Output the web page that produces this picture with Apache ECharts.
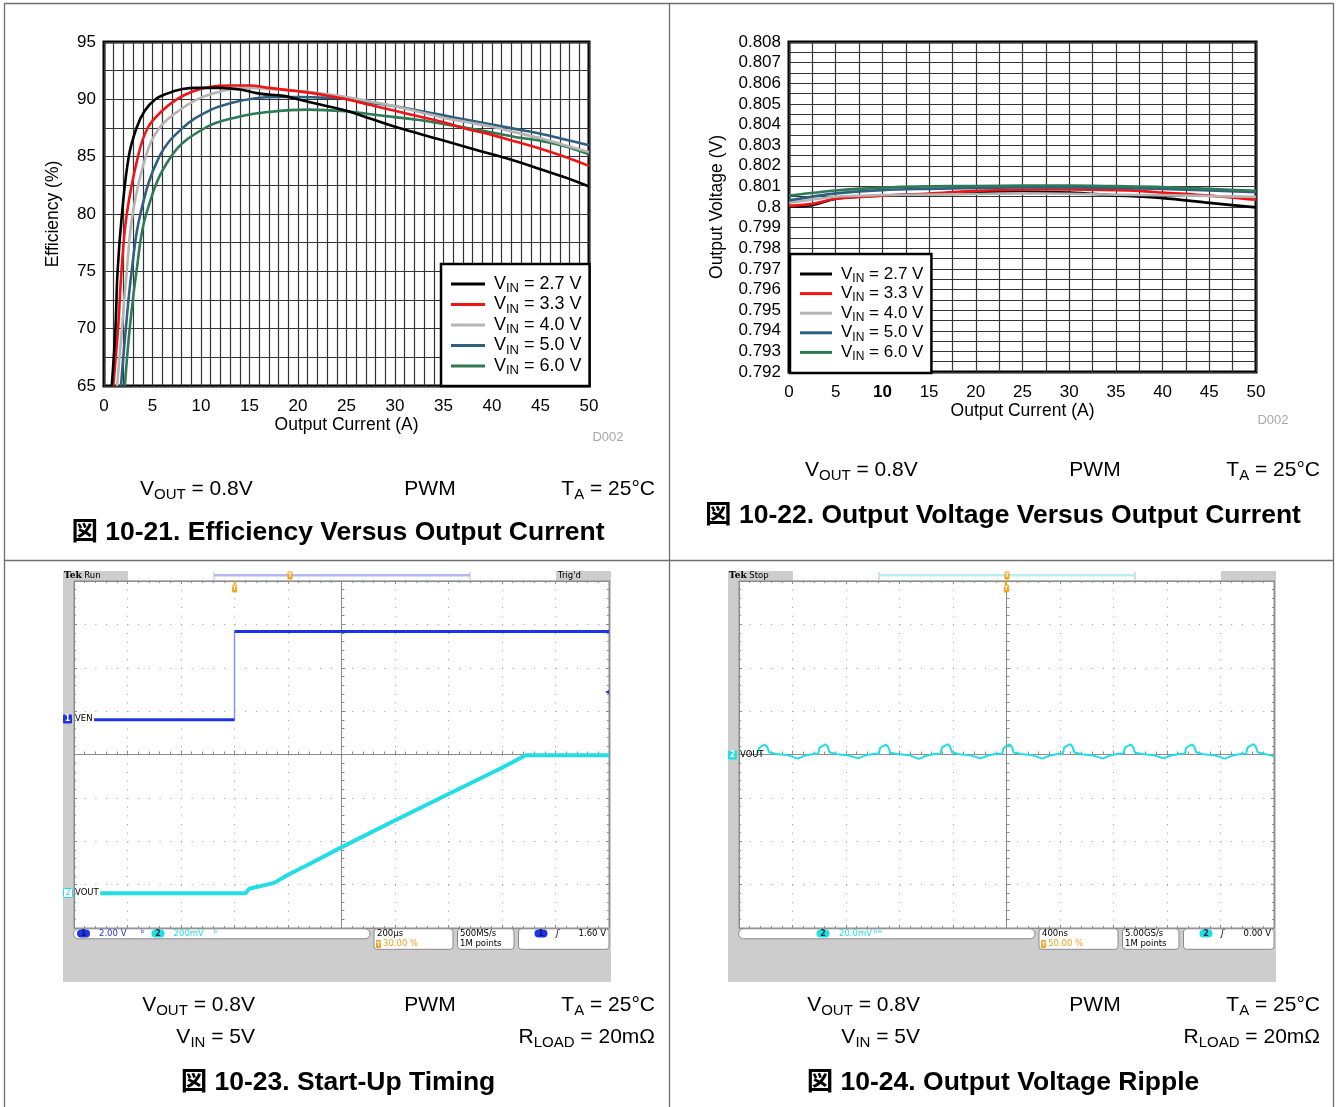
<!DOCTYPE html>
<html><head><meta charset="utf-8">
<script src="https://cdn.jsdelivr.net/npm/echarts@6/dist/echarts.min.js"></script>
<style>html,body{margin:0;padding:0;background:#fff}#c{width:1336px;height:1107px}</style>
</head><body><div id="c"></div>
<script>
// ================= DATA =================
const vinNames = ['VIN = 2.7 V','VIN = 3.3 V','VIN = 4.0 V','VIN = 5.0 V','VIN = 6.0 V'];
const vinColors = ['#000000','#f01414','#b4b4b4','#2f607f','#2e7a55'];
// Efficiency (%) vs output current (A)
const eff27 = [[0.8,65],[1.18,70],[1.4,75],[1.85,80],[2.55,85],[3.35,87.5],[4.2,89],[5.3,90],[6.5,90.5],[8.1,90.9],[9.6,91.0],[12,91.0],[14,90.85],[16,90.5],[18.5,90.3],[20,90.0],[22.5,89.5],[25,89.0],[27.5,88.3],[30,87.6],[32.5,87.0],[35,86.4],[37.5,85.8],[40,85.2],[42.5,84.6],[45,83.9],[47.5,83.2],[50,82.4]];
const eff33 = [[0.95,65],[1.45,70],[1.8,75],[2.35,80],[3.5,85],[4.5,87.5],[6,89],[7.5,90],[9.2,90.7],[11,91.1],[13,91.2],[15,91.2],[17,91.0],[20,90.7],[22.5,90.4],[25,90.0],[27.5,89.5],[30,89.0],[32.5,88.5],[35,88.0],[37.5,87.4],[40,86.9],[42.5,86.3],[45,85.7],[47.5,85.0],[50,84.2]];
const eff40 = [[1.35,65],[1.85,70],[2.35,75],[2.95,80],[4.3,85],[5.7,87.5],[7.7,89],[9.6,90],[11.2,90.5],[13.2,90.9],[15.2,91.0],[17,90.9],[20,90.75],[22.5,90.5],[25,90.2],[27.5,89.8],[30,89.4],[32.5,88.9],[35,88.4],[37.5,88.0],[40,87.6],[42.5,87.1],[45,86.6],[47.5,86.0],[50,85.4]];
const eff50 = [[1.75,65],[2.25,70],[2.85,75],[3.75,80],[5.7,85],[8.1,87.5],[10.8,89],[13.2,89.7],[15.6,90.1],[18,90.2],[20,90.2],[22.5,90.15],[25,90.05],[27.5,89.7],[30,89.4],[32.5,89.0],[35,88.6],[37.5,88.2],[40,87.8],[42.5,87.4],[45,87.0],[47.5,86.5],[50,86.0]];
const eff60 = [[2.15,65],[2.65,70],[3.35,75],[4.35,80],[6.9,85],[10.4,87.5],[14,88.5],[17,88.9],[21,89.1],[25,88.95],[27.5,88.7],[30,88.45],[32.5,88.2],[35,87.85],[37.5,87.5],[40,87.1],[42.5,86.7],[45,86.4],[47.5,85.9],[50,85.2]];
// Output voltage (V) vs output current (A)
const vo27 = [[0,0.80003],[2.5,0.80009],[5,0.8004],[7.5,0.8005],[10,0.80055],[15,0.80062],[20,0.8007],[25,0.80072],[30,0.8007],[35,0.80056],[40,0.80043],[45,0.8002],[50,0.79998]];
const vo33 = [[0,0.80005],[2.5,0.80015],[5,0.8004],[10,0.80055],[15,0.80065],[20,0.80078],[25,0.80084],[30,0.80085],[35,0.80082],[37.5,0.80078],[40,0.8007],[45,0.80055],[50,0.80035]];
const vo40 = [[0,0.8002],[5,0.8005],[10,0.80058],[15,0.8006],[20,0.80063],[25,0.80066],[30,0.80064],[35,0.8006],[40,0.80057],[45,0.80053],[50,0.8005]];
const vo50 = [[0,0.80032],[5,0.80066],[10,0.80082],[15,0.80088],[20,0.80092],[25,0.80095],[30,0.80095],[35,0.80092],[40,0.80088],[45,0.8008],[50,0.80072]];
const vo60 = [[0,0.80055],[5,0.8008],[10,0.80094],[15,0.801],[20,0.80102],[25,0.80104],[30,0.80104],[35,0.80101],[40,0.80097],[45,0.80088],[50,0.80078]];
// Start-up timing: time (us) vs volts
const venLow = [[-525,0],[0,0]];
const venEdge = [[0,0],[0,4.07]];
const venHigh = [[0,4.07],[1400,4.07]];
const voutStart = [[-502,0],[41,0],[55,0.021],[148,0.048],[202,0.087],[282,0.136],[401,0.213],[601,0.337],[802,0.459],[1002,0.580],[1088,0.637],[1400,0.637]];
// Output ripple: time (ns) vs mV
const ripple = [
 [-1861,0.5],[-1851,3.0],[-1831,3.8],[-1806,4.5],[-1790,3.6],[-1775,1.0],[-1721,0.2],[-1631,-0.4],[-1561,-1.9],[-1511,-0.6],[-1446,0.2],
 [-1408,0.3],[-1398,3.1],[-1378,3.9],[-1353,4.7],[-1337,3.7],[-1322,1.0],[-1268,0.1],[-1178,-0.5],[-1108,-1.8],[-1058,-0.5],[-993,0.3],
 [-955,0.3],[-945,3.0],[-925,3.8],[-900,4.5],[-884,3.5],[-869,0.8],[-815,0.2],[-725,-0.4],[-655,-2.0],[-605,-0.7],[-540,0.2],
 [-493,0.4],[-483,3.2],[-463,4.0],[-438,4.8],[-422,3.7],[-407,1.0],[-353,0.1],[-263,-0.5],[-193,-1.8],[-143,-0.6],[-78,0.3],
 [-32,0.3],[-22,3.0],[-2,3.9],[23,4.6],[39,3.6],[54,0.9],[108,0.2],[198,-0.4],[268,-1.9],[318,-0.6],[383,0.2],
 [421,0.4],[431,3.1],[451,4.0],[476,4.8],[492,3.7],[507,1.0],[561,0.1],[651,-0.5],[721,-1.9],[771,-0.5],[836,0.3],
 [875,0.3],[885,3.1],[905,3.9],[930,4.6],[946,3.5],[961,0.9],[1015,0.2],[1105,-0.4],[1175,-1.8],[1225,-0.6],[1290,0.2],
 [1333,0.3],[1343,3.0],[1363,3.9],[1388,4.6],[1404,3.6],[1419,1.0],[1473,0.1],[1563,-0.5],[1633,-1.9],[1683,-0.6],[1748,0.2],
 [1792,0.4],[1802,3.2],[1822,4.0],[1847,4.8],[1863,3.7],[1878,1.0],[1932,0.2],[1975,-0.4],[2000,-0.8]
];
const effSeries = [eff27, eff33, eff40, eff50, eff60];
const voSeries = [vo27, vo33, vo40, vo50, vo60];

// ================= STYLE / LAYOUT =================
const F = 'Liberation Sans, Arial, Helvetica, sans-serif';
const FT = 'Liberation Sans, Arial, Noto Sans CJK JP, sans-serif';
const FS = 'DejaVu Sans, sans-serif';
const gridLine = {color:'#333333', width:1.2};
const scopeGrey = '#8c8c8c';
const cBlue = '#1f33e6', cCyan = '#22dde3', cOrange = '#f5a21e';

function legendFmt(name){ return '{n|V}{s|IN}{n|' + name.slice(3) + '}'; }

function effLegend(left, top, fs, sub, lh, pad, gap, iw){
  return {left, top, orient:'vertical', data: vinNames, icon:'rect', itemWidth: iw, itemHeight: 3,
    itemGap: gap, padding: pad, backgroundColor:'#fff', borderColor:'#000', borderWidth: 2.5,
    formatter: legendFmt, selectedMode:false,
    textStyle:{padding:[0,0,0,4], rich:{
      n:{fontSize:fs, fontFamily:F, color:'#000', lineHeight:lh, verticalAlign:'middle'},
      s:{fontSize:sub, fontFamily:F, color:'#000', lineHeight:lh, verticalAlign:'middle', padding:[9,0,0,0]}}}};
}

// scope axis helpers
function divCenterX(grid, onIdx){ return {gridIndex:grid, type:'value', min:-5, max:5, interval:1, position:'bottom',
  axisLine:{show:true, onZero:true, onZeroAxisIndex:onIdx, lineStyle:{color:scopeGrey, width:1}},
  axisTick:{show:true, inside:true, length:4, lineStyle:{color:scopeGrey}},
  minorTick:{show:true, splitNumber:5, length:3, lineStyle:{color:scopeGrey}},
  axisLabel:{show:false}, splitLine:{show:true, lineStyle:{color:'#9a9a9a', width:1, type:[1,7.68]}}}; }
function divEdgeX(grid, pos){ return {gridIndex:grid, type:'value', min:-5, max:5, interval:1, position:pos,
  axisLine:{show:true, onZero:false, lineStyle:{color:scopeGrey, width:1}},
  axisTick:{show:true, inside:true, length:3, lineStyle:{color:scopeGrey}},
  minorTick:{show:true, splitNumber:5, length:2, lineStyle:{color:scopeGrey}},
  axisLabel:{show:false}, splitLine:{show:false}}; }
function divCenterY(grid, onIdx){ return {gridIndex:grid, type:'value', min:-4, max:4, interval:1, position:'left',
  axisLine:{show:true, onZero:true, onZeroAxisIndex:onIdx, lineStyle:{color:scopeGrey, width:1}},
  axisTick:{show:true, inside:true, length:4, lineStyle:{color:scopeGrey}},
  minorTick:{show:true, splitNumber:5, length:3, lineStyle:{color:scopeGrey}},
  axisLabel:{show:false}, splitLine:{show:true, lineStyle:{color:'#9a9a9a', width:1, type:[1,9.7]}}}; }
function divEdgeY(grid, pos){ return {gridIndex:grid, type:'value', min:-4, max:4, interval:1, position:pos,
  axisLine:{show:true, onZero:false, lineStyle:{color:scopeGrey, width:1}},
  axisTick:{show:true, inside:true, length:3, lineStyle:{color:scopeGrey}},
  minorTick:{show:true, splitNumber:5, length:2, lineStyle:{color:scopeGrey}},
  axisLabel:{show:false}, splitLine:{show:false}}; }
function hidden(grid, min, max){ return {gridIndex:grid, type:'value', min, max, show:false, axisLine:{onZero:false}, splitLine:{show:false}}; }

// ================= GRAPHIC DECORATION =================
const G = [];
function gline(x1,y1,x2,y2,color,w,z){ G.push({type:'line', silent:true, z:z==null?50:z, shape:{x1,y1,x2,y2}, style:{stroke:color, lineWidth:w}}); }
function grect(x,y,w,h,fill,stroke,r,z){ G.push({type:'rect', silent:true, z:z==null?50:z, shape:{x,y,width:w,height:h,r:r||0}, style:{fill:fill, stroke:stroke||null, lineWidth:1}}); }
function gtext(x,y,t,st,z){ G.push({type:'text', silent:true, z:z==null?60:z, x, y, style:Object.assign({text:t, fill:'#000', align:'left', verticalAlign:'middle', fontFamily:F, fontSize:20}, st)}); }

// page frame
const frameC = '#6e6e6e';
gline(4.5,3,4.5,1107,frameC,1.3); gline(1333.5,3,1333.5,1107,frameC,1.3);
gline(4.5,3.5,1333.5,3.5,frameC,1.3); gline(669.5,3,669.5,1107,frameC,1.3);
gline(4.5,560.5,1333.5,560.5,frameC,1.3);

// captions
const capRich = {n:{fontSize:21, fontFamily:F, color:'#000', lineHeight:26, verticalAlign:'middle'},
                 s:{fontSize:15, fontFamily:F, color:'#000', lineHeight:26, verticalAlign:'middle', padding:[11,0,0,0]}};
function cap(x,y,t,align){ gtext(x,y,t,{align, rich:capRich}); }
function title(x,y,t){ gtext(x,y,t,{align:'center', fontFamily:FT, fontWeight:'bold', fontSize:26.5}); }
// panel 1
cap(140,489,'{n|V}{s|OUT}{n| = 0.8V}','left'); cap(430,489,'{n|PWM}','center'); cap(655,489,'{n|T}{s|A}{n| = 25°C}','right');
title(338,533,'図 10-21. Efficiency Versus Output Current');
// panel 2
cap(805,470,'{n|V}{s|OUT}{n| = 0.8V}','left'); cap(1095,470,'{n|PWM}','center'); cap(1320,470,'{n|T}{s|A}{n| = 25°C}','right');
title(1003,516,'図 10-22. Output Voltage Versus Output Current');
// panel 3
cap(255,1005,'{n|V}{s|OUT}{n| = 0.8V}','right'); cap(430,1005,'{n|PWM}','center'); cap(655,1005,'{n|T}{s|A}{n| = 25°C}','right');
cap(255,1037,'{n|V}{s|IN}{n| = 5V}','right'); cap(655,1037,'{n|R}{s|LOAD}{n| = 20mΩ}','right');
title(338,1083,'図 10-23. Start-Up Timing');
// panel 4
cap(920,1005,'{n|V}{s|OUT}{n| = 0.8V}','right'); cap(1095,1005,'{n|PWM}','center'); cap(1320,1005,'{n|T}{s|A}{n| = 25°C}','right');
cap(920,1037,'{n|V}{s|IN}{n| = 5V}','right'); cap(1320,1037,'{n|R}{s|LOAD}{n| = 20mΩ}','right');
title(1003,1083,'図 10-24. Output Voltage Ripple');
// D002 marks
gtext(608,437,'D002',{align:'center', fontSize:13, fill:'#a8a8a8'});
gtext(1273,420,'D002',{align:'center', fontSize:13, fill:'#a8a8a8'});

// scope decoration
function st(x,y,t,fill,extra){ gtext(x,y,t,Object.assign({fontFamily:FS, fontSize:8.5, fill:fill||'#000'}, extra||{}), 70); }
function oval(cx,cy,fill,num,numColor){ grect(cx-6.5,cy-4,13,8,fill,null,4,65); st(cx,cy,num,numColor,{align:'center', fontWeight:'bold', fontSize:8}); }
function tBadge(x,y){ grect(x-2.5,y-4,5,8,cOrange,null,1,66); st(x,y,'T','#fff',{align:'center', fontSize:6, fontWeight:'bold'}); }
function scope(ox, mode){
  grect(63+ox,571,548,411,'#cdcdcd',null,0,-10);
  grect(128+ox,571,428,9.5,'#ffffff',null,0,-9);
  gtext(64+ox,575.5,'{b|Tek} ' + (mode==='run'?'Run':'Stop'),{fontFamily:FS, fontSize:8.5, rich:{b:{fontFamily:'DejaVu Serif, serif', fontWeight:'bold', fontSize:9}}},70);
  const barC = mode==='run' ? '#b3b6f2' : '#b5f1f3';
  grect(214+ox,574,256,2.5,barC,null,0,62);
  gline(214+ox,572,214+ox,580,'#bbbbbb',1,61); gline(470+ox,572,470+ox,580,'#bbbbbb',1,61);
  const tTop = mode==='run' ? 290 : 1007-ox;
  tBadge(tTop+ox,575.5);
  const tPos = mode==='run' ? 234.6 : 1006.4-ox;
  gtext(tPos+ox,583,'▾',{align:'center', fontSize:7, fill:cOrange},66);
  tBadge(tPos+ox,588.5);
  if (mode==='run') st(558+ox,575.5,"Trig'd");
  grect(73.6+ox,928.8,296.4,10,'#fff','#8a8a8a',5,63);
  grect(374+ox,928.8,79,20.5,'#fff','#8a8a8a',3,63);
  grect(457.5+ox,928.8,56.5,20.5,'#fff','#8a8a8a',3,63);
  grect(518.5+ox,928.8,90.5,20.5,'#fff','#8a8a8a',3,63);
}
scope(0,'run'); scope(665,'stop');
// panel 3 status
oval(83.5,933.5,cBlue,'1','#0a1a70'); st(99,933.5,'2.00 V',cBlue); st(141,933.5,'ᵇ',cBlue);
oval(158,933.5,cCyan,'2','#0a3a40'); st(173.6,933.5,'200mV',cCyan); st(214,933.5,'ᵇ',cCyan);
st(377,933.5,'200µs'); tBadge(378.5,944); st(383,944,'30.00 %',cOrange);
st(460,933.5,'500MS/s'); st(460,944,'1M points');
oval(541,933.5,cBlue,'1','#0a1a70'); st(556,933.5,'ʃ','#000',{fontStyle:'italic'}); st(606,933.5,'1.60 V','#000',{align:'right'});
grect(63,714.5,9,9,cBlue,null,1,65); st(67.5,719,'1','#fff',{align:'center', fontWeight:'bold', fontSize:8}); st(75,719,'VEN');
grect(63.5,888.5,9,9,'#fff',cCyan,1,65); st(68,893,'2',cCyan,{align:'center', fontSize:8}); st(75,893,'VOUT');
st(607,691.5,'◂',cBlue,{align:'center', fontSize:8});
// panel 4 status
oval(823,933.5,cCyan,'2','#0a3a40'); st(839,933.5,'20.0mV',cCyan); st(874,933.5,'ᵇʷ',cCyan);
st(1042,933.5,'400ns'); tBadge(1043.5,944); st(1048,944,'50.00 %',cOrange);
st(1125,933.5,'5.00GS/s'); st(1125,944,'1M points');
oval(1206,933.5,cCyan,'2','#0a3a40'); st(1221,933.5,'ʃ','#000',{fontStyle:'italic'}); st(1271,933.5,'0.00 V','#000',{align:'right'});
grect(728,750.5,9,9,cCyan,null,1,65); st(732.5,755,'2','#fff',{align:'center', fontWeight:'bold', fontSize:8}); st(740,755,'VOUT');

// ================= OPTION =================
const axisLbl = {fontSize:17, fontFamily:F, color:'#000'};
const nameStyle = {fontSize:17.5, fontFamily:F, color:'#000'};
const series = [];
effSeries.forEach((d,i)=>series.push({type:'line', name:vinNames[i], xAxisIndex:0, yAxisIndex:0, data:d, showSymbol:false, symbol:'none', smooth:0.4, clip:true, z:3+(4-i), lineStyle:{width:2.6, color:vinColors[i]}, itemStyle:{color:vinColors[i]}}));
voSeries.forEach((d,i)=>series.push({type:'line', name:vinNames[i], xAxisIndex:1, yAxisIndex:1, data:d, showSymbol:false, symbol:'none', smooth:0.3, clip:true, z:3+i, lineStyle:{width:2.6, color:vinColors[i]}, itemStyle:{color:vinColors[i]}}));
series.push({type:'line', name:'VEN', xAxisIndex:5, yAxisIndex:5, data:venLow, symbol:'none', lineStyle:{width:3, color:cBlue}, z:5});
series.push({type:'line', name:'VEN edge', xAxisIndex:5, yAxisIndex:5, data:venEdge, symbol:'none', lineStyle:{width:1.5, color:'#8a90f2'}, z:4});
series.push({type:'line', name:'VEN high', xAxisIndex:5, yAxisIndex:5, data:venHigh, symbol:'none', lineStyle:{width:3, color:cBlue}, z:5});
series.push({type:'line', name:'VOUT', xAxisIndex:5, yAxisIndex:6, data:voutStart, symbol:'none', lineStyle:{width:4, color:cCyan}, z:5});
series.push({type:'line', name:'VOUT ripple', xAxisIndex:9, yAxisIndex:10, data:ripple, symbol:'none', lineStyle:{width:2, color:cCyan}, z:5});

const option = {
  animation:false,
  backgroundColor:'#ffffff',
  grid:[
    {left:104, top:42, width:485, height:344, show:true, borderColor:'#000', borderWidth:3, backgroundColor:'transparent'},
    {left:789, top:42, width:467, height:330, show:true, borderColor:'#000', borderWidth:3, backgroundColor:'transparent'},
    {left:74, top:581, width:535, height:347, show:true, borderColor:scopeGrey, borderWidth:1, backgroundColor:'#fff'},
    {left:739, top:581, width:535, height:347, show:true, borderColor:scopeGrey, borderWidth:1, backgroundColor:'#fff'}
  ],
  xAxis:[
    {gridIndex:0, type:'value', min:0, max:50, interval:5, axisLine:{show:false}, axisTick:{show:false},
     axisLabel:Object.assign({margin:12}, axisLbl), splitLine:{show:true, lineStyle:gridLine},
     minorTick:{show:false, splitNumber:5}, minorSplitLine:{show:true, lineStyle:gridLine},
     name:'Output Current (A)', nameLocation:'middle', nameGap:30, nameTextStyle:nameStyle},
    {gridIndex:1, type:'value', min:0, max:50, interval:5, axisLine:{show:false}, axisTick:{show:false},
     axisLabel:Object.assign({margin:12, formatter:v=> v===10 ? '{b|10}' : String(v), rich:{b:{fontSize:17, fontFamily:F, fontWeight:'bold', color:'#000'}}}, axisLbl),
     splitLine:{show:true, lineStyle:gridLine},
     minorTick:{show:false, splitNumber:2}, minorSplitLine:{show:true, lineStyle:gridLine},
     name:'Output Current (A)', nameLocation:'middle', nameGap:28, nameTextStyle:nameStyle},
    divCenterX(2,2), divEdgeX(2,'top'), divEdgeX(2,'bottom'), hidden(2,-600,1400),
    divCenterX(3,7), divEdgeX(3,'top'), divEdgeX(3,'bottom'), hidden(3,-2000,2000)
  ],
  yAxis:[
    {gridIndex:0, type:'value', min:65, max:95, interval:5, axisLine:{show:false}, axisTick:{show:false},
     axisLabel:Object.assign({margin:8}, axisLbl), splitLine:{show:true, lineStyle:gridLine},
     minorTick:{show:false, splitNumber:2}, minorSplitLine:{show:true, lineStyle:gridLine},
     name:'Efficiency (%)', nameLocation:'middle', nameGap:42, nameTextStyle:nameStyle},
    {gridIndex:1, type:'value', min:0.792, max:0.808, interval:0.001, axisLine:{show:false}, axisTick:{show:false},
     axisLabel:Object.assign({margin:8, formatter:v=>String(+(+v).toFixed(3))}, axisLbl), splitLine:{show:true, lineStyle:gridLine},
     minorTick:{show:false, splitNumber:2}, minorSplitLine:{show:true, lineStyle:gridLine},
     name:'Output Voltage (V)', nameLocation:'middle', nameGap:63, nameTextStyle:nameStyle},
    divCenterY(2,2), divEdgeY(2,'left'), divEdgeY(2,'right'), hidden(2,-9.6,6.4), hidden(2,-0.16,1.44),
    divCenterY(3,6), divEdgeY(3,'left'), divEdgeY(3,'right'), hidden(3,-80,80)
  ],
  legend:[
    effLegend(441, 264, 18, 13, 20, [9,8,9,10], -1.5, 34),
    effLegend(790, 254, 17, 12, 19, [9.5,8,10,10], -1.4, 32)
  ],
  series,
  graphic:{elements:G}
};
const chart = echarts.init(document.getElementById('c'), null, {renderer:'canvas'});
chart.setOption(option);
</script></body></html>
